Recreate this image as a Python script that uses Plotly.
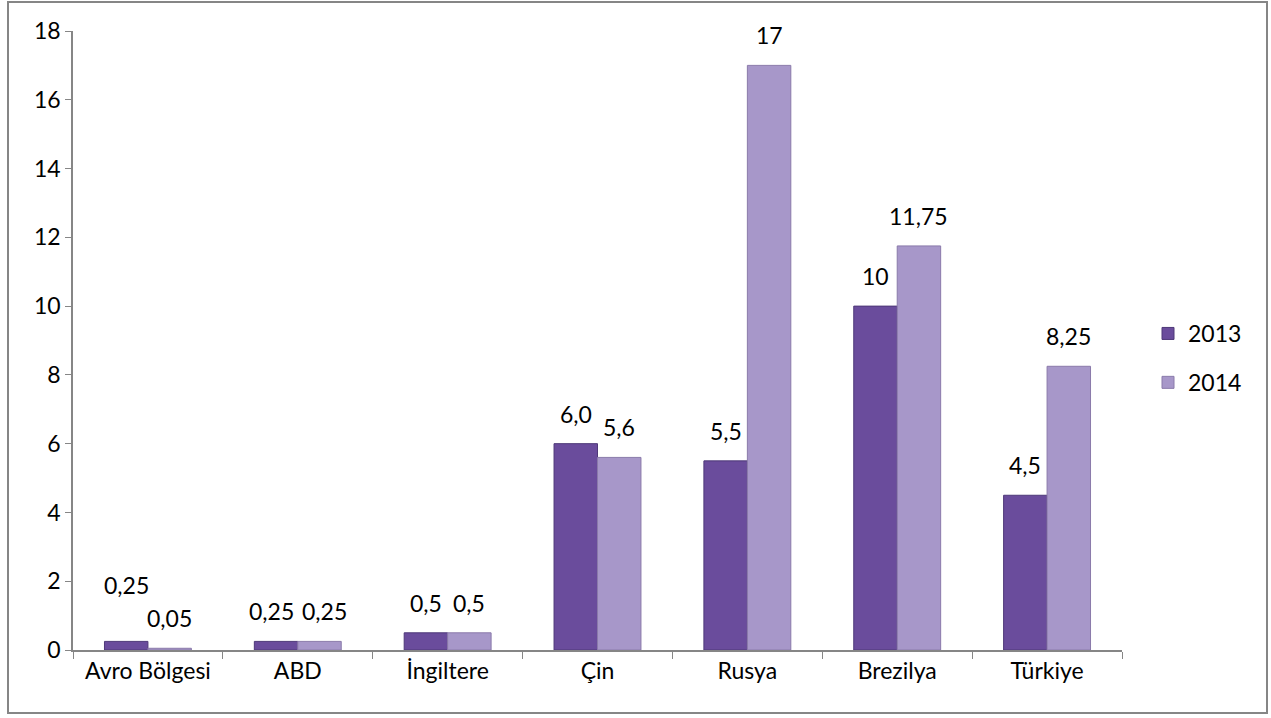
import plotly.graph_objects as go

categories = ["Avro Bölgesi", "ABD", "İngiltere", "Çin", "Rusya", "Brezilya", "Türkiye"]
values_2013 = [0.25, 0.25, 0.5, 6.0, 5.5, 10, 4.5]
values_2014 = [0.05, 0.25, 0.5, 5.6, 17, 11.75, 8.25]
labels_2013 = ["0,25", "0,25", "0,5", "6,0", "5,5", "10", "4,5"]
labels_2014 = ["0,05", "0,25", "0,5", "5,6", "17", "11,75", "8,25"]
y_ticks = [0, 2, 4, 6, 8, 10, 12, 14, 16, 18]

FONT = "Lato, Open Sans, sans-serif"
FS = 23
BARGAP = 0.42

fig = go.Figure()
fig.add_trace(go.Bar(
    name="2013", x=categories, y=values_2013, legendgroup="a",
    marker=dict(color="#6a4c9c", line=dict(color="#4e3878", width=1)),
))
fig.add_trace(go.Bar(
    name="2014", x=categories, y=values_2014, legendgroup="b",
    marker=dict(color="#a797c9", line=dict(color="#8a7aaa", width=1)),
))

# data labels above each bar (with simple overlap avoidance inside a group)
half = (1 - BARGAP) / 4
annotations = []
for i in range(len(categories)):
    v1, v2 = values_2013[i], values_2014[i]
    same_level = abs(v1 - v2) < 0.01
    close_level = (not same_level) and abs(v1 - v2) < 0.3
    for v, t, dx, side in [(v1, labels_2013[i], -half, -1), (v2, labels_2014[i], half, 1)]:
        yshift = 30
        xshift = 0
        if same_level and len(t) > 3:
            xshift = 5 * side
        if close_level and v == max(v1, v2):
            yshift = 56
        annotations.append(dict(x=i + dx, y=v, xref="x", yref="y", text=t,
                                showarrow=False, yanchor="middle",
                                yshift=yshift, xshift=xshift,
                                font=dict(size=FS, color="black", family=FONT)))

L, R, T, B = 73, 149, 31, 68
W, H = 1271, 718
pw, ph = W - L - R, H - T - B

fig.update_layout(
    width=W, height=H,
    margin=dict(l=L, r=R, t=T, b=B, autoexpand=False),
    paper_bgcolor="white", plot_bgcolor="white",
    barmode="group", bargap=BARGAP, bargroupgap=0,
    font=dict(family=FONT, size=FS, color="black"),
    showlegend=True,
    legend=dict(x=(1148 - L) / pw, y=(650 - 358) / ph, xanchor="left", yanchor="middle",
                font=dict(size=FS), itemwidth=30, tracegroupgap=16,
                bgcolor="rgba(0,0,0,0)"),
    annotations=annotations,
    shapes=[dict(type="rect", xref="paper", yref="paper",
                 x0=(8 - L) / pw, x1=(1267 - L) / pw,
                 y0=(650 - 713) / ph, y1=(650 - 2) / ph,
                 line=dict(color="#868686", width=2), fillcolor="rgba(0,0,0,0)", layer="below")],
)
fig.update_xaxes(
    showline=True, linecolor="#868686", linewidth=1.5,
    ticks="outside", tickson="boundaries", ticklen=7, tickcolor="#868686",
    showgrid=False, tickfont=dict(size=FS),
)
fig.update_yaxes(
    range=[0, 18], tickvals=y_ticks, ticktext=[str(v) for v in y_ticks],
    showline=True, linecolor="#868686", linewidth=1.5,
    ticks="outside", ticklen=6, tickcolor="#868686",
    showgrid=False, zeroline=False, tickfont=dict(size=FS),
)

fig.write_html("out.html", config={"displayModeBar": False},
               post_script="document.body.style.margin='0';document.body.style.overflow='hidden';")
